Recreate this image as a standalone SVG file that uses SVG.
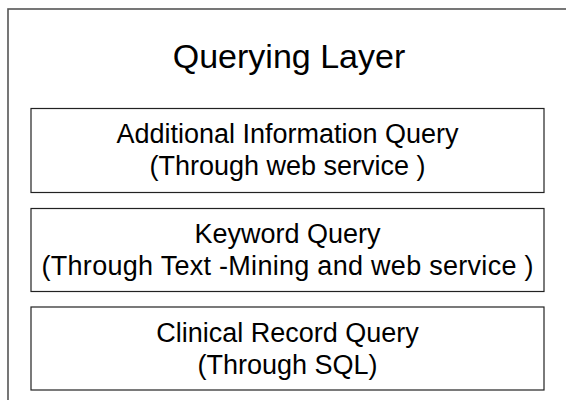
<svg xmlns="http://www.w3.org/2000/svg" width="566" height="400" viewBox="0 0 566 400">
<style>
.outer{fill:#fff;stroke:#555;stroke-width:1.6}
.box{fill:#fff;stroke:#222;stroke-width:1.2}
text{font-family:"Liberation Sans",Arial,sans-serif;fill:#000;text-anchor:middle}
.t{font-size:27px}
.title{font-size:34px}
</style>
<rect width="566" height="400" fill="#fff"/>
<g id="layer">
<rect class="outer" x="8" y="9" width="570" height="400"/>
<text class="title" x="289" y="68">Querying Layer</text>
</g>
<g id="connectors"></g>
<g id="additional">
<rect class="box" x="31" y="108.5" width="513" height="84"/>
<text class="t" x="287.5" y="143">Additional Information Query</text>
<text class="t" x="287.5" y="175">(Through web service )</text>
</g>
<g id="keyword">
<rect class="box" x="31" y="208.5" width="513" height="83"/>
<text class="t" x="287.5" y="243">Keyword Query</text>
<text class="t" x="287.5" y="275" textLength="492" lengthAdjust="spacing">(Through Text -Mining and web service )</text>
</g>
<g id="clinical">
<rect class="box" x="31" y="307" width="513" height="83"/>
<text class="t" x="287.5" y="342">Clinical Record Query</text>
<text class="t" x="287.5" y="374">(Through SQL)</text>
</g>
</svg>
